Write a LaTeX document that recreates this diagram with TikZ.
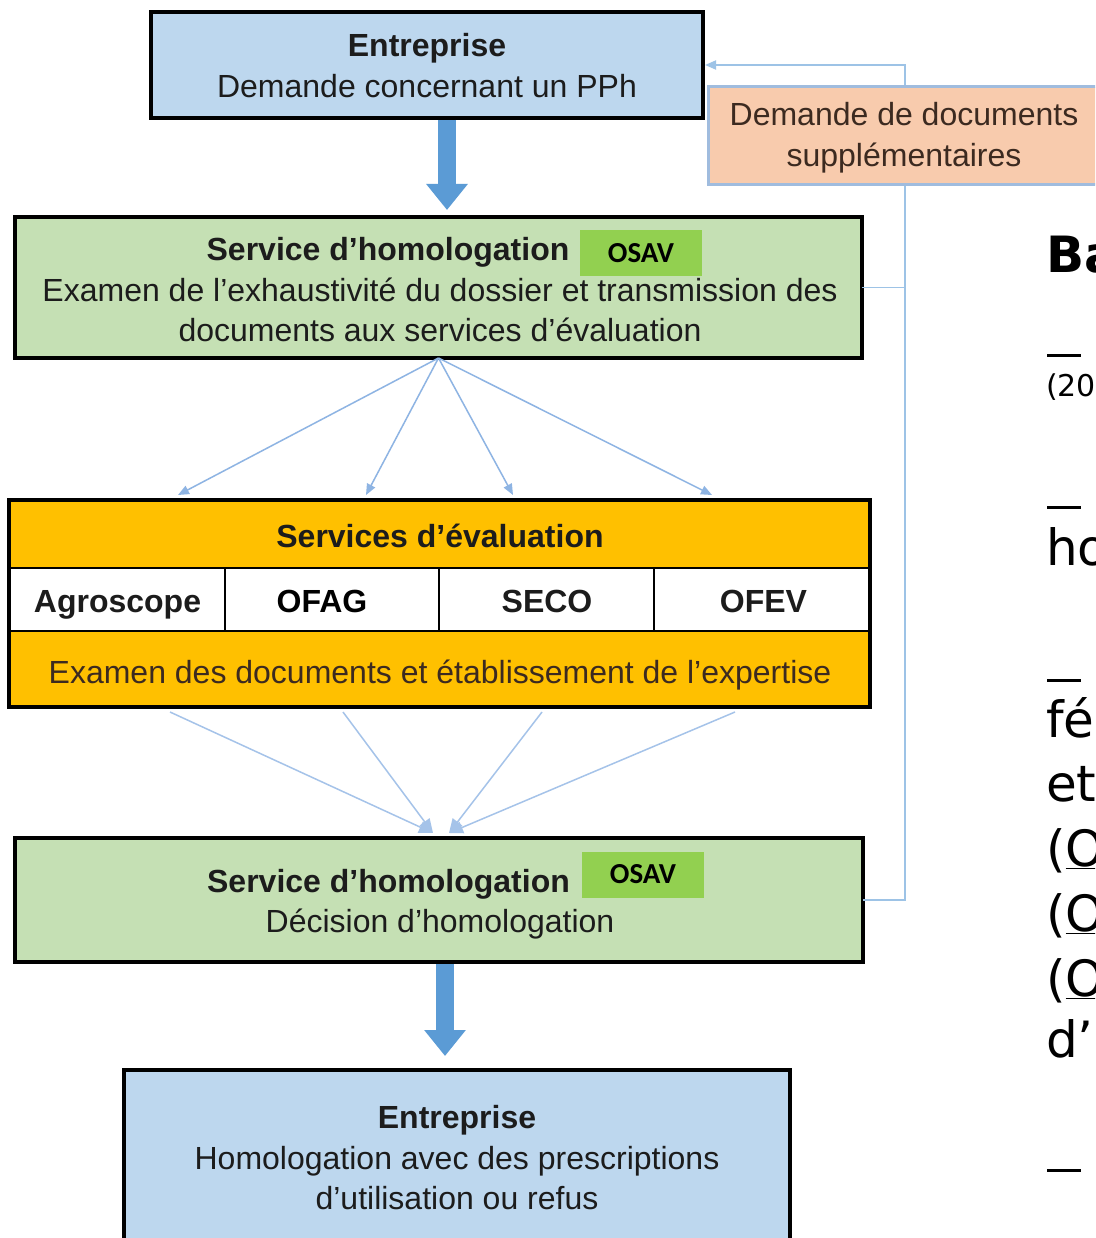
\documentclass[tikz,border=0pt]{standalone}
\usepackage{fontspec}
\setmainfont{Liberation Sans}
\newfontfamily\osavfont{Carlito}
\newfontfamily\dvfont{DejaVu Sans}
\usetikzlibrary{arrows.meta,calc}
\definecolor{boxblue}{RGB}{189,215,238}
\definecolor{boxgreen}{RGB}{197,224,180}
\definecolor{osavgreen}{RGB}{146,208,80}
\definecolor{evalorange}{RGB}{255,192,0}
\definecolor{peach}{RGB}{248,203,173}
\definecolor{arrowblue}{RGB}{91,155,213}
\definecolor{thinblue}{RGB}{142,180,227}
\definecolor{fbblue}{RGB}{157,195,230}
\definecolor{peachborder}{RGB}{160,188,222}
\definecolor{txtdark}{RGB}{28,28,28}
\definecolor{txtbrown}{RGB}{60,42,32}
\begin{document}
\begin{tikzpicture}[x=1pt,y=-1pt,
  every node/.style={inner sep=0pt,outer sep=0pt},
  frame/.style={draw=black,line width=3.5pt,rectangle},
  cell/.style={draw=black,line width=2.5pt,rectangle},
  txt/.style={align=center,anchor=base,font=\fontsize{32}{40.5}\selectfont,text=txtdark},
  osav/.style={fill=osavgreen,minimum width=122pt,minimum height=46pt,font=\osavfont\bfseries\fontsize{29}{30}\selectfont,text=black},
  bigarrow/.style={draw=arrowblue,line width=18pt,-{Triangle[length=26pt,width=40pt]}},
  thinarrow/.style={draw=thinblue,line width=1.5pt,-{Triangle[length=11pt,width=9pt]}},
  convline/.style={draw=thinblue!80,line width=1.5pt,-{Triangle[length=14pt,width=12pt]}},
  fbline/.style={draw=fbblue,line width=1.8pt},
  side/.style={anchor=base west,font=\dvfont\fontsize{50}{60}\selectfont,text=black},
  sidedash/.style={draw=black,line width=3pt}
]
\useasboundingbox (0,0) rectangle (1095,1238);
\clip (0,0) rectangle (1095,1238);
\fill[white] (0,0) rectangle (1095,1238);

% boxes (multi-line texts are placed by the baseline of their last line)
\node[frame,fill=boxblue,minimum width=552pt,minimum height=106pt] (top) at (427,65) {};
\node[txt] (toptxt) at (427,97.5) {\textbf{Entreprise}\\Demande concernant un PPh};

\node[frame,fill=boxgreen,minimum width=847pt,minimum height=141pt] (green1) at (438.5,287.5) {};
\node[txt] (g1title) at (388,260.5) {\textbf{Service d’homologation}};
\node[osav] (osav1) at (641,253) {OSAV};
\node[txt] (g1desc) at (440,341.5) {Examen de l’exhaustivité du dossier et transmission des\\documents aux services d’évaluation};

\node[cell,fill=evalorange,minimum width=861pt,minimum height=68pt] (evalhead) at (439.5,534) {};
\node[txt] (evaltitle) at (440,547.5) {\textbf{Services d’évaluation}};
\node[cell,fill=white,minimum width=216pt,minimum height=63pt] (agro) at (117,599.5) {};
\node[cell,fill=white,minimum width=214pt,minimum height=63pt] (ofag) at (332,599.5) {};
\node[cell,fill=white,minimum width=215pt,minimum height=63pt] (seco) at (546.5,599.5) {};
\node[cell,fill=white,minimum width=216pt,minimum height=63pt] (ofev) at (762,599.5) {};
\node[txt] (agrotxt) at (117.5,612.5) {\textbf{Agroscope}};
\node[txt,text=black] (ofagtxt) at (322,612.5) {\textbf{OFAG}};
\node[txt] (secotxt) at (547,612.5) {\textbf{SECO}};
\node[txt] (ofevtxt) at (763.5,612.5) {\textbf{OFEV}};
\node[cell,fill=evalorange,minimum width=861pt,minimum height=76pt] (evalbot) at (439.5,669) {};
\node[txt,text=txtbrown] (evalbottxt) at (440,683.5) {Examen des documents et établissement de l’expertise};
\draw[line width=3.5pt] (evalhead.north west) rectangle (evalbot.south east);

\node[frame,fill=boxgreen,minimum width=848pt,minimum height=124pt] (green2) at (439,900) {};
\node[txt] (g2title) at (388.5,892.5) {\textbf{Service d’homologation}};
\node[osav] (osav2) at (643,874.5) {OSAV};
\node[txt] (g2desc) at (440,932.5) {Décision d’homologation};

\node[frame,fill=boxblue,minimum width=666pt,minimum height=190pt] (bottom) at (457,1165) {};
\node[txt] (bottomtxt) at (457,1209.5) {\textbf{Entreprise}\\Homologation avec des prescriptions\\d’utilisation ou refus};

% block arrows
\draw[bigarrow] ($(top.south)+(20,2)$) -- ($(green1.north)+(8.5,-7)$);
\draw[bigarrow] ($(green2.south)+(6,2)$) -- ($(bottom.north)+(-12,-14)$);

% diverging arrows
\coordinate (d1) at ($(evalhead.north west)+(169,-5)$);
\coordinate (d2) at ($(evalhead.north west)+(357,-5)$);
\coordinate (d3) at ($(evalhead.north west)+(504,-5)$);
\coordinate (d4) at ($(evalhead.north west)+(703,-5)$);
\foreach \d in {d1,d2,d3,d4} \draw[thinarrow] (green1.south) -- (\d);

% converging arrows
\coordinate (c1) at ($(evalbot.south west)+(161,5)$);
\coordinate (c2) at ($(evalbot.south west)+(334,5)$);
\coordinate (c3) at ($(evalbot.south west)+(533,5)$);
\coordinate (c4) at ($(evalbot.south west)+(726,5)$);
\coordinate (t1) at ($(green2.north)+(-6,-5)$);
\coordinate (t2) at ($(green2.north)+(10,-5)$);
\draw[convline] (c1) -- (t1);
\draw[convline] (c2) -- (t1);
\draw[convline] (c3) -- (t2);
\draw[convline] (c4) -- (t2);

% feedback loop
\draw[fbline,-{Triangle[length=11pt,width=9pt]},shorten >=2pt] (green2.east) -- ++(42,0) coordinate (fbc) |- (top.east);
\draw[fbline] (green1.east) -- (green1.east -| fbc);

\node[draw=peachborder,line width=3pt,fill=peach,minimum width=392pt,minimum height=98pt] (request) at (904,136) {};
\node[txt,text=txtbrown] (requesttxt) at (904,166.5) {Demande de documents\\supplémentaires};

% cut-off text on the right
\node[side,font=\dvfont\bfseries\fontsize{50}{60}\selectfont] (s1) at (1046,273) {Ba};
\draw[sidedash] (1047,355) -- (1081,355);
\node[side,font=\dvfont\fontsize{30}{36}\selectfont] (s2) at (1046,396) {(20};
\draw[sidedash] (1047,507) -- (1081,507);
\node[side] (s3) at (1046,565) {ho};
\draw[sidedash] (1047,680) -- (1081,680);
\node[side] (s4) at (1046,737) {fé};
\node[side] (s5) at (1046,801) {et};
\node[side] (s6) at (1046,866) {(\underline{O}};
\node[side] (s7) at (1046,931) {(\underline{O}};
\node[side] (s8) at (1046,996) {(\underline{O}};
\node[side] (s9) at (1046,1057) {d’};
\draw[sidedash] (1047,1170) -- (1081,1170);
\end{tikzpicture}
\end{document}
